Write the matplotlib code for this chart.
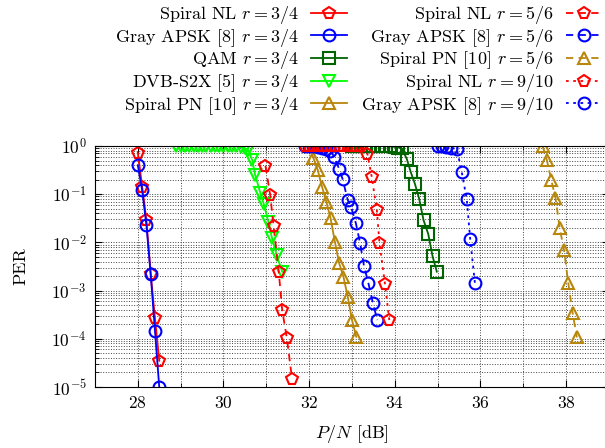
import matplotlib
matplotlib.use('Agg')
import matplotlib.pyplot as plt
from matplotlib.ticker import LogLocator, NullFormatter, MultipleLocator

plt.rcParams.update({
    'font.family': 'serif',
    'font.serif': ['cmr10'],
    'mathtext.fontset': 'cm',
    'axes.formatter.use_mathtext': True,
    'font.size': 12.5,
})

# rate 3/4 curves
nl34_x = [28.0, 28.1, 28.2, 28.3, 28.4, 28.5]
nl34_y = [0.73, 0.143, 0.029, 2.2e-3, 2.7e-4, 3.5e-5]
apsk34_x = [28.0, 28.1, 28.2, 28.3, 28.4, 28.5]
apsk34_y = [0.40, 0.122, 0.023, 2.2e-3, 1.47e-4, 1.0e-5]
qam34_x = [33.0, 33.1, 33.2, 33.3, 33.4, 33.5, 33.6, 33.7, 33.8, 33.9, 34.0, 34.08,
           34.16, 34.28, 34.37, 34.47, 34.57, 34.67, 34.78, 34.88, 34.98]
qam34_y = [1.0, 1.0, 1.0, 1.0, 1.0, 1.0, 1.0, 1.0, 0.99, 0.98, 0.96, 0.93,
           0.9, 0.537, 0.29, 0.163, 0.079, 0.029, 0.0149, 5.2e-3, 2.47e-3]
dvb34_x = [28.9, 29.0, 29.1, 29.2, 29.3, 29.4, 29.5, 29.6, 29.7, 29.8, 29.9, 30.0,
           30.1, 30.2, 30.3, 30.4, 30.5, 30.58, 30.67, 30.74, 30.86, 30.94, 31.05,
           31.13, 31.24, 31.37]
dvb34_y = [1.0, 1.0, 1.0, 1.0, 1.0, 1.0, 1.0, 1.0, 1.0, 1.0, 1.0, 1.0,
           1.0, 1.0, 0.98, 0.95, 0.9, 0.83, 0.51, 0.25, 0.106, 0.063, 0.026,
           0.0126, 5.5e-3, 2.47e-3]
pn34_x = [32.0, 32.1, 32.2, 32.3, 32.4, 32.5, 32.6, 32.7, 32.8, 32.9, 33.0, 33.1]
pn34_y = [1.0, 0.556, 0.318, 0.143, 0.07, 0.0316, 0.0103, 3.7e-3, 1.94e-3, 7.5e-4, 2.45e-4, 1.1e-4]

# rate 5/6 curves
nl56_x = [30.98, 31.09, 31.17, 31.29, 31.37, 31.48, 31.6]
nl56_y = [0.385, 0.096, 0.0219, 2.43e-3, 3.96e-4, 1.02e-4, 1.48e-5]
apsk56_x = [31.9, 32.0, 32.1, 32.2, 32.3, 32.4, 32.49, 32.59, 32.7, 32.78, 32.9, 32.98,
            33.09, 33.19, 33.28, 33.38, 33.49, 33.59]
apsk56_y = [1.0, 1.0, 0.98, 0.95, 0.92, 0.88, 0.8, 0.59, 0.333, 0.207, 0.076, 0.054,
            0.025, 9.6e-3, 3.24e-3, 1.46e-3, 5.45e-4, 2.45e-4]
pn56_x = [37.45, 37.55, 37.65, 37.75, 37.85, 37.95, 38.05, 38.15, 38.25]
pn56_y = [1.0, 0.51, 0.2, 0.0846, 0.0196, 6.95e-3, 1.42e-3, 3.48e-4, 1.07e-4]

# rate 9/10 curves
nl910_x = [31.9, 32.0, 32.1, 32.2, 32.3, 32.4, 32.5, 32.6, 32.7, 32.8, 32.9, 33.0,
           33.1, 33.2, 33.36, 33.46, 33.58, 33.64, 33.77, 33.87]
nl910_y = [1.0] * 14 + [0.68, 0.23, 0.047, 9.9e-3, 1.37e-3, 2.45e-4]
apsk910_x = [35.0, 35.1, 35.2, 35.3, 35.45, 35.56, 35.68, 35.76, 35.87]
apsk910_y = [1.0, 1.0, 0.97, 0.93, 0.85, 0.293, 0.078, 0.0116, 1.42e-3]

red = '#ff0000'
blue = '#0000ff'
dgreen = '#006400'
lime = '#00ff00'
gold = '#b8860b'
dashed = (0, (4, 3))
dotted = (0, (1.5, 2.5))

fig = plt.figure(figsize=(6.05, 4.48), dpi=100)
ax = fig.add_axes([95 / 605, 61 / 448, 514 / 605, 241 / 448])

common = dict(lw=1.3, ms=8.5, mew=1.5, mfc='none')
series = [
    (nl34_x, nl34_y, red, 'p', '-', r'Spiral NL $r = 3/4$'),
    (apsk34_x, apsk34_y, blue, 'o', '-', r'Gray APSK [8] $r = 3/4$'),
    (qam34_x, qam34_y, dgreen, 's', '-', r'QAM $r = 3/4$'),
    (dvb34_x, dvb34_y, lime, 'v', '-', r'DVB-S2X [5] $r = 3/4$'),
    (pn34_x, pn34_y, gold, '^', '-', r'Spiral PN [10] $r = 3/4$'),
    (nl56_x, nl56_y, red, 'p', dashed, r'Spiral NL $r = 5/6$'),
    (apsk56_x, apsk56_y, blue, 'o', dashed, r'Gray APSK [8] $r = 5/6$'),
    (pn56_x, pn56_y, gold, '^', dashed, r'Spiral PN [10] $r = 5/6$'),
    (nl910_x, nl910_y, red, 'p', dotted, r'Spiral NL $r = 9/10$'),
    (apsk910_x, apsk910_y, blue, 'o', dotted, r'Gray APSK [8] $r = 9/10$'),
]
handles = []
for x, y, c, m, ls, lab in series:
    h, = ax.plot(x, y, color=c, mec=c, marker=m, linestyle=ls, label=lab, **common)
    handles.append(h)

ax.set_yscale('log')
ax.set_xlim(27, 39)
ax.set_ylim(1e-5, 1)
ax.xaxis.set_major_locator(MultipleLocator(2))
ax.xaxis.set_minor_locator(MultipleLocator(1))
ax.yaxis.set_major_locator(LogLocator(base=10, numticks=10))
ax.yaxis.set_minor_locator(LogLocator(base=10, subs=range(2, 10), numticks=20))
ax.yaxis.set_minor_formatter(NullFormatter())
ax.tick_params(which='both', direction='in', top=True, right=True, pad=6)
ax.tick_params(which='major', length=5)
ax.tick_params(which='minor', length=3)
ax.grid(which='both', linestyle=':', color='#444444', linewidth=0.7)
ax.set_xlabel(r'$P/N$ [dB]', fontsize=13)
ax.set_ylabel('PER', fontsize=13)
ax.xaxis.set_label_coords(0.5, -0.15)
ax.yaxis.set_label_coords(-0.13, 0.5)

# two legend columns, each pinned by its right edge
leg_kw = dict(loc='upper right', frameon=False, markerfirst=False, handlelength=2.0,
              handletextpad=0.67, labelspacing=0.036, borderpad=0, borderaxespad=0,
              fontsize=13)
fig.legend(handles=handles[:5], bbox_to_anchor=(347 / 605, 0.991), **leg_kw)
fig.legend(handles=handles[5:], bbox_to_anchor=(602 / 605, 0.991), **leg_kw)

fig.savefig('out.png', dpi=100)
